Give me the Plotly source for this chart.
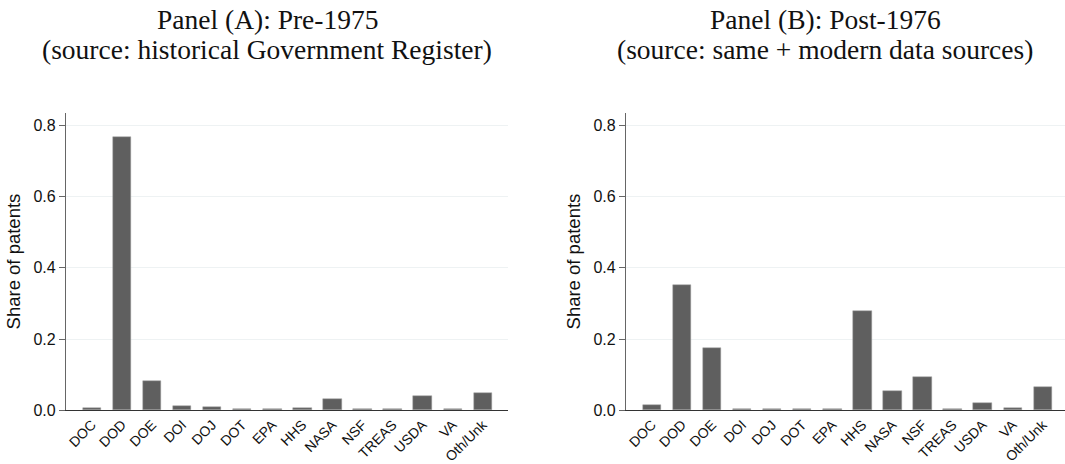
import plotly.graph_objects as go

W, H = 1065, 464

agencies = ["DOC", "DOD", "DOE", "DOI", "DOJ", "DOT", "EPA", "HHS", "NASA",
            "NSF", "TREAS", "USDA", "VA", "Oth/Unk"]
share_pre1975 = [0.006, 0.767, 0.083, 0.012, 0.008, 0.003, 0.002, 0.005,
                 0.031, 0.002, 0.002, 0.039, 0.002, 0.047]
share_post1976 = [0.015, 0.352, 0.175, 0.004, 0.002, 0.002, 0.002, 0.280,
                  0.053, 0.092, 0.002, 0.021, 0.005, 0.064]
y_ticks = [0.0, 0.2, 0.4, 0.6, 0.8]
y_tick_text = ["0.0", "0.2", "0.4", "0.6", "0.8"]
title_a = ["Panel (A): Pre-1975", "(source: historical Government Register)"]
title_b = ["Panel (B): Post-1976", "(source: same + modern data sources)"]
y_title = "Share of patents"

BAR = "#5f5f5f"
SANS = "Liberation Sans, Arial, Helvetica, sans-serif"
SERIF = "Liberation Serif, Times New Roman, serif"

fig = go.Figure()
x_idx = list(range(len(agencies)))
for vals, xa, ya in ((share_pre1975, "x", "y"), (share_post1976, "x2", "y2")):
    fig.add_trace(go.Bar(x=x_idx, y=vals, xaxis=xa, yaxis=ya,
                         marker=dict(color=BAR, line=dict(color="#a0a0a0", width=0.5)),
                         width=0.61, showlegend=False, hoverinfo="skip"))

def px_x(p):
    return p / W

def px_y(p):
    return (H - p) / H

ydom = [px_y(421), px_y(116)]
common_x = dict(tickmode="array", tickvals=x_idx, ticktext=agencies, tickangle=-45,
                tickfont=dict(family=SANS, size=14, color="#111"),
                showline=True, linecolor="#333", linewidth=1.2,
                ticks="", showgrid=False, zeroline=False, fixedrange=True)
common_y = dict(tickmode="array", tickvals=y_ticks, ticktext=y_tick_text,
                range=[0, 0.8356], tickfont=dict(family=SANS, size=16, color="#111"),
                showline=True, linecolor="#666", linewidth=1.2,
                ticks="outside", ticklen=6, tickcolor="#666", tickwidth=1,
                showgrid=True, gridcolor="#eef2f3", gridwidth=1, zeroline=False,
                title=dict(text=y_title, font=dict(family=SANS, size=18.5, color="#111"),
                           standoff=7),
                fixedrange=True, domain=ydom)

fig.update_layout(
    width=W, height=H, autosize=False,
    margin=dict(l=0, r=0, t=0, b=0),
    paper_bgcolor="white", plot_bgcolor="white",
    bargap=0,
    xaxis=dict(domain=[px_x(66), px_x(508)], range=[-0.866, 13.84], anchor="y", **common_x),
    yaxis=dict(anchor="x", **common_y),
    xaxis2=dict(domain=[px_x(626), 1.0], range=[-0.866, 13.74], anchor="y2", **common_x),
    yaxis2=dict(anchor="x2", **common_y),
)

for cx, lines in ((267, title_a), (825, title_b)):
    for base, txt in zip((29, 60), lines):
        fig.add_annotation(text=txt, x=px_x(cx), y=px_y(base + 9), xref="paper", yref="paper",
                           xanchor="center", yanchor="bottom", showarrow=False,
                           font=dict(family=SERIF, size=27.5, color="#111"))

fig.write_html("out.html", config={"displayModeBar": False},
               post_script="document.body.style.margin='0';document.body.style.overflow='hidden';")
